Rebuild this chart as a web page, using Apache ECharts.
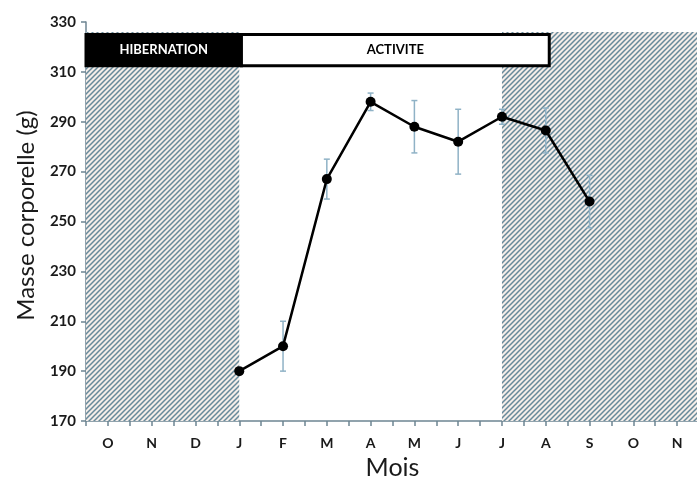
<!DOCTYPE html>
<html>
<head>
<meta charset="utf-8">
<script src="https://cdn.jsdelivr.net/npm/echarts@6/dist/echarts.min.js"></script>
<style>html,body{margin:0;padding:0;background:#fff}#c{width:697px;height:486px}</style>
</head>
<body>
<div id="c"></div>
<script>
// Month tick labels (Oct .. Nov of following year)
const months = ['O','N','D','J','F','M','A','M','J','J','A','S','O','N'];
// Mean body mass (g) per month, null where not measured
const masses = [null,null,null,190,200,267,298,288,282,292,286.5,258,null,null];
// Error (± g)
const errors = [null,null,null,0,10,8,3.5,10.5,13,3,9,10.5,null,null];
// Hatched (hibernation) periods, in month units
const hatchPeriods = [[0,3.5],[9.5,14]];
// Phase bars
const phases = [
  {name:'HIBERNATION', from:0, to:3.55},
  {name:'ACTIVITE', from:3.55, to:10.58}
];
const phaseRange = [312.5, 325];
const hatchTop = 326;

const lineData = [], errData = [];
masses.forEach((v,i)=>{
  if (v!=null){ lineData.push([i+0.5, v]); errData.push([i+0.5, v, errors[i]]); }
});

// hatch pattern
const p = 5;
const cv = document.createElement('canvas');
cv.width = p; cv.height = p;
const g = cv.getContext('2d');
g.fillStyle = '#f4ede9'; g.fillRect(0,0,p,p);
g.strokeStyle = '#67899a'; g.lineWidth = 1.5;
g.beginPath();
g.moveTo(-1, p+1); g.lineTo(p+1, -1);
g.moveTo(-1, 1); g.lineTo(1, -1);
g.moveTo(p-1, p+1); g.lineTo(p+1, p-1);
g.stroke();

const chart = echarts.init(document.getElementById('c'));
const axisColor = '#6e8592';
chart.setOption({
  animation:false,
  grid:{left:86, top:22, bottom:65, right:-2, outerBoundsMode:'none', containLabel:false},
  xAxis:{
    type:'value', min:0, max:14, interval:0.5,
    name:'Mois', nameLocation:'middle', nameGap:34,
    nameTextStyle:{fontFamily:'Lato', fontSize:25, color:'#1a1a1a'},
    axisLine:{show:true, lineStyle:{color:axisColor, width:1.5}},
    axisTick:{show:true, length:5, lineStyle:{color:axisColor, width:1.5}},
    splitLine:{show:false},
    axisLabel:{
      margin:15, fontFamily:'Lato', fontWeight:'bold', fontSize:14, color:'#1a1a1a',
      showMinLabel:true, showMaxLabel:false, hideOverlap:false,
      formatter:v=>{ const i=Math.floor(v); return (Math.abs(v-i-0.5)<1e-6 && months[i]) ? months[i] : ''; }
    }
  },
  yAxis:{
    type:'value', min:170, max:330, interval:20,
    name:'Masse corporelle (g)', nameLocation:'middle', nameGap:48,
    nameTextStyle:{fontFamily:'Lato', fontSize:24, color:'#1a1a1a', padding:[0,0,0,12]},
    axisLine:{show:true, lineStyle:{color:axisColor, width:1.5}},
    axisTick:{show:true, length:5, lineStyle:{color:axisColor, width:1.5}},
    splitLine:{show:false},
    axisLabel:{margin:10, fontFamily:'Lato', fontWeight:'bold', fontSize:15, color:'#1a1a1a'}
  },
  series:[
    {
      type:'line', data:[], z:1, silent:true,
      markArea:{
        silent:true,
        itemStyle:{color:{image:cv, repeat:'repeat'}},
        data: hatchPeriods.map(h=>[{xAxis:h[0], yAxis:170},{xAxis:h[1], yAxis:hatchTop}])
      }
    },
    {
      type:'line', data:[], z:2, silent:true,
      markArea:{
        silent:true,
        data: phases.map((ph,k)=>[
          {xAxis:ph.from, yAxis:phaseRange[0], name:ph.name,
           itemStyle: k===0 ? {color:'#000', borderColor:'#000', borderWidth:3}
                            : {color:'#fff', borderColor:'#000', borderWidth:3},
           label:{show:true, position:'inside', fontFamily:'Lato', fontWeight:'bold', fontSize:13,
                  color: k===0 ? '#fff' : '#000'}},
          {xAxis:ph.to, yAxis:phaseRange[1]}
        ])
      }
    },
    {
      type:'custom', z:3, silent:true, data:errData,
      renderItem:(params, api)=>{
        const x=api.value(0), v=api.value(1), e=api.value(2);
        if (!e) return null;
        const hi=api.coord([x, v+e]), lo=api.coord([x, v-e]);
        const w=3;
        const st={stroke:'#8fb2c6', lineWidth:1.5};
        return {type:'group', children:[
          {type:'line', shape:{x1:hi[0],y1:hi[1],x2:lo[0],y2:lo[1]}, style:st},
          {type:'line', shape:{x1:hi[0]-w,y1:hi[1],x2:hi[0]+w,y2:hi[1]}, style:st},
          {type:'line', shape:{x1:lo[0]-w,y1:lo[1],x2:lo[0]+w,y2:lo[1]}, style:st}
        ]};
      }
    },
    {
      type:'line', z:4, data:lineData, symbol:'circle', symbolSize:10,
      lineStyle:{color:'#000', width:2.5}, itemStyle:{color:'#000'}
    }
  ]
});
</script>
</body>
</html>
